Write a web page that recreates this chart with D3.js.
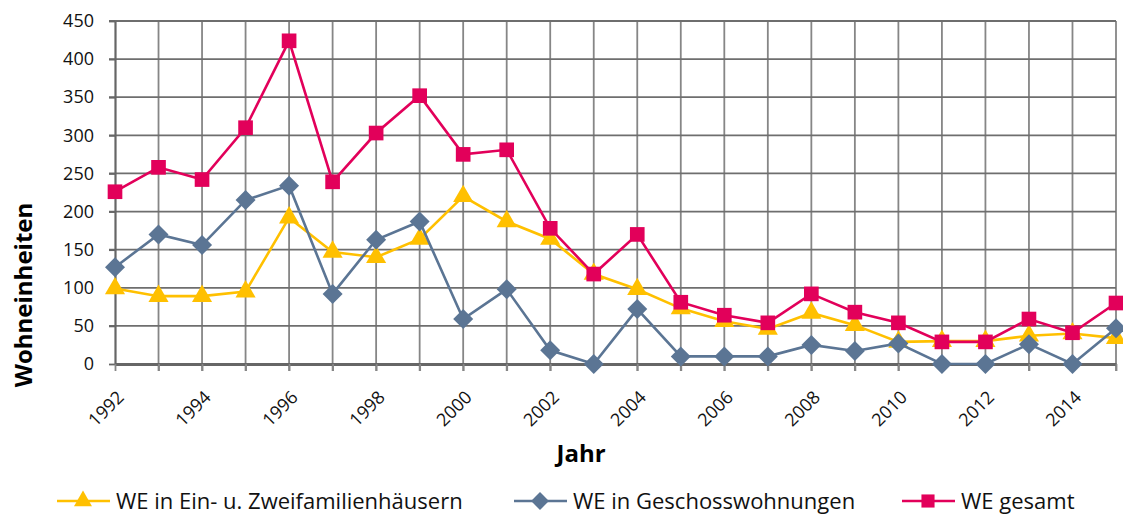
<!DOCTYPE html>
<html>
<head>
<meta charset="utf-8">
<script src="https://cdn.jsdelivr.net/npm/d3@7"></script>
<style>
  body { margin: 0; background: #fff; }
  text { font-family: "Open Sans", sans-serif; }
</style>
</head>
<body>
<div id="chart"></div>
<script>
const years = d3.range(1992, 2016);
const einZwei = [99, 89, 89, 95, 192, 147, 140, 164, 220, 187, 164, 118, 98, 73, 56, 46, 67, 51, 29, 30, 30, 37, 40, 34];
const geschoss = [127, 170, 156, 215, 234, 92, 163, 187, 59, 98, 18, 0, 72, 10, 10, 10, 25, 17, 27, 0, 0, 26, 0, 47];
const gesamt = [226, 258, 242, 310, 424, 239, 303, 352, 275, 281, 178, 118, 170, 81, 64, 54, 92, 68, 54, 29, 29, 59, 41, 80];
const yTicks = [0, 50, 100, 150, 200, 250, 300, 350, 400, 450];
const xTickLabels = [1992, 1994, 1996, 1998, 2000, 2002, 2004, 2006, 2008, 2010, 2012, 2014];

const series = [
    { name: "WE in Ein- u. Zweifamilienhäusern", values: einZwei, color: "#ffc000", symbol: d3.symbolTriangle, size: 175, rot: 0 },
    { name: "WE in Geschosswohnungen", values: geschoss, color: "#5b7594", symbol: d3.symbolSquare, size: 200, rot: 45 },
    { name: "WE gesamt", values: gesamt, color: "#e2005a", symbol: d3.symbolSquare, size: 215, rot: 0 }
];

const width = 1123, height = 514;
const plotLeft = 115, plotRight = 1116, plotTop = 21, plotBottom = 364;

const svg = d3.select("#chart").append("svg")
    .attr("width", width)
    .attr("height", height);

const x = d3.scaleLinear().domain([1992, 2015]).range([plotLeft, plotRight]);
const y = d3.scaleLinear().domain([0, 450]).range([plotBottom, plotTop]);

// grid
const grid = svg.append("g");
grid.selectAll(".vg").data(years.slice(1))
    .enter().append("line")
    .attr("x1", d => x(d)).attr("x2", d => x(d))
    .attr("y1", plotTop).attr("y2", plotBottom + 7)
    .attr("stroke", "#868686").attr("stroke-width", 1.8);
grid.selectAll(".hg").data(yTicks.slice(1))
    .enter().append("line")
    .attr("x1", plotLeft - 6).attr("x2", plotRight)
    .attr("y1", d => y(d)).attr("y2", d => y(d))
    .attr("stroke", "#6e6e6e").attr("stroke-width", 1.8);

// axes
const yAxis = svg.append("g")
    .attr("transform", "translate(" + plotLeft + ",0)")
    .call(d3.axisLeft(y).tickValues(yTicks).tickSize(6).tickSizeOuter(0));
yAxis.select(".domain").attr("stroke", "#666").attr("stroke-width", 2.2);
yAxis.selectAll(".tick line").attr("stroke", "#666").attr("stroke-width", 1.8);
yAxis.selectAll("text").attr("font-size", 18).attr("fill", "#111").attr("x", -21);

const xAxis = svg.append("g")
    .attr("transform", "translate(0," + plotBottom + ")")
    .call(d3.axisBottom(x).tickValues(years).tickSize(7).tickSizeOuter(0).tickFormat(d => xTickLabels.includes(d) ? d : ""));
xAxis.select(".domain").attr("stroke", "#666").attr("stroke-width", 2.8);
xAxis.selectAll(".tick line").attr("stroke", "#868686").attr("stroke-width", 1.8);
xAxis.selectAll("text")
    .attr("font-size", 18).attr("fill", "#111")
    .attr("text-anchor", "end")
    .attr("dy", "0.35em")
    .attr("transform", "translate(5,30) rotate(-45)")
    .attr("y", 0).attr("x", 0);

// axis titles
svg.append("text")
    .attr("x", 581).attr("y", 462)
    .attr("text-anchor", "middle")
    .attr("font-size", 24).attr("font-weight", "bold")
    .text("Jahr");
svg.append("text")
    .attr("transform", "translate(32,295) rotate(-90)")
    .attr("text-anchor", "middle")
    .attr("font-size", 24).attr("font-weight", "bold")
    .text("Wohneinheiten");

// lines and markers
const line = d3.line().x((d, i) => x(years[i])).y(d => y(d));
series.forEach(s => {
    const g = svg.append("g");
    g.append("path")
        .attr("d", line(s.values))
        .attr("fill", "none")
        .attr("stroke", s.color)
        .attr("stroke-width", 2.6);
    g.selectAll("path.m").data(s.values)
        .enter().append("path")
        .attr("class", "m")
        .attr("d", d3.symbol().type(s.symbol).size(s.size))
        .attr("transform", (d, i) => "translate(" + x(years[i]) + "," + y(d) + ") rotate(" + s.rot + ")")
        .attr("fill", s.color);
});

// legend
const legendX = [57, 514, 902];
const legend = svg.append("g");
series.forEach((s, i) => {
    const g = legend.append("g").attr("transform", "translate(" + legendX[i] + ",501)");
    g.append("line").attr("x1", 0).attr("x2", 53)
        .attr("stroke", s.color).attr("stroke-width", 2.6);
    g.append("path")
        .attr("d", d3.symbol().type(s.symbol).size(s.size * 0.8))
        .attr("transform", "translate(26,0) rotate(" + s.rot + ")")
        .attr("fill", s.color);
    g.append("text")
        .attr("x", 59).attr("y", 0).attr("dy", "0.35em")
        .attr("font-size", 22).attr("fill", "#111")
        .text(s.name);
});
</script>
</body>
</html>
